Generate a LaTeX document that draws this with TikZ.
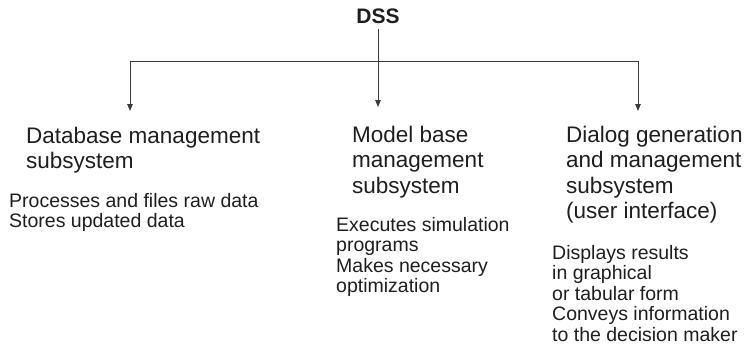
\documentclass[tikz,border=0pt]{standalone}
\usepackage{fontspec}
\setmainfont{Liberation Sans}
\usepackage{xcolor}
\usetikzlibrary{arrows.meta}
\definecolor{ink}{HTML}{1E1E1E}
\definecolor{wire}{HTML}{3A3A3A}

\begin{document}
\begin{tikzpicture}[
    x=1pt, y=-1pt,
    >={Triangle[length=7pt, width=5.5pt]},
    every edge/.style={draw, wire, line width=0.9pt, ->},
    root/.style={anchor=base, inner sep=6pt, text=ink, font=\fontsize{21}{24}\selectfont\bfseries},
    head/.style={anchor=north west, inner sep=0pt, align=left, text=ink, font=\fontsize{22.5}{25.3}\selectfont},
    desc/.style={anchor=north west, inner sep=0pt, align=left, text=ink, font=\fontsize{19.5}{20.5}\selectfont},
]
    \useasboundingbox (0,0) rectangle (753,351);

    % Root
    \node[root] (dss) at (378,23) {DSS};

    % Bus and arrow ends
    \coordinate (busL) at (130,61);
    \coordinate (busR) at (638,61);
    \coordinate (tipL) at (130,111);
    \coordinate (tipM) at (378,107);
    \coordinate (tipR) at (638,111);

    % Subsystems
    \node[head] (dbm) at (26,126.5) {Database management\\subsystem};
    \node[head] (mbm) at (352,126) {Model base\\management\\subsystem};
    \node[head] (dgm) at (566,126) {Dialog generation\\and management\\subsystem\\(user interface)};

    % Tasks
    \node[desc] (dbtask) at (9,193) {Processes and files raw data\\Stores updated data};
    \node[desc] (mbtask) at (336,217) {Executes simulation\\programs\\Makes necessary\\optimization};
    \node[desc] (dgtask) at (552,245) {Displays results\\in graphical\\or tabular form\\Conveys information\\to the decision maker};

    % Edges
    \draw[wire, line width=0.9pt] (busL) -- (busR);
    \draw (busL) edge (tipL);
    \draw (busR) edge (tipR);
    \draw (dss) edge (tipM);
\end{tikzpicture}
\end{document}
